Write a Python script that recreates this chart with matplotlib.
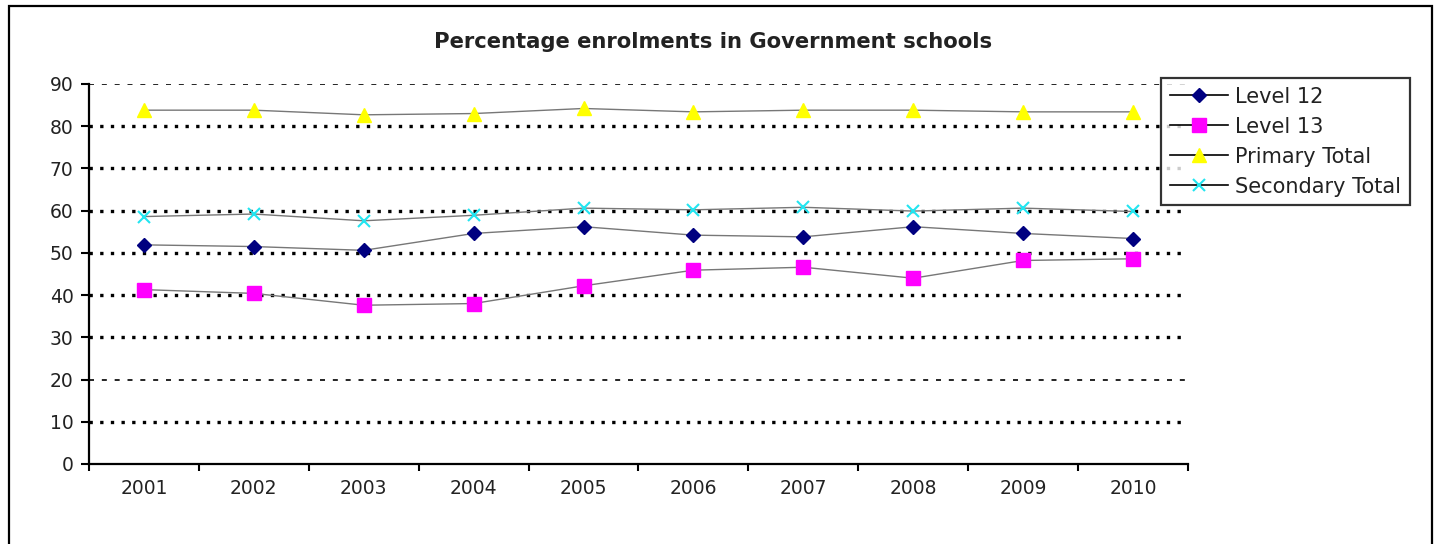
import matplotlib
matplotlib.use("Agg")
import matplotlib.pyplot as plt
from matplotlib.patches import Rectangle
from matplotlib.lines import Line2D

# values
years = ["2001", "2002", "2003", "2004", "2005", "2006", "2007", "2008", "2009", "2010"]
level12 = [51.9, 51.5, 50.6, 54.6, 56.2, 54.2, 53.8, 56.2, 54.6, 53.4]
level13 = [41.3, 40.4, 37.6, 38.0, 42.2, 45.9, 46.6, 44.0, 48.2, 48.6]
primary_total = [83.8, 83.8, 82.7, 83.0, 84.2, 83.4, 83.8, 83.8, 83.4, 83.4]
secondary_total = [58.6, 59.2, 57.6, 58.9, 60.6, 60.2, 60.8, 59.9, 60.6, 59.8]
yticks = [0, 10, 20, 30, 40, 50, 60, 70, 80, 90]

plt.rcParams["font.family"] = "DejaVu Sans"
txt = "#222222"

fig = plt.figure(figsize=(14.39, 5.44), dpi=100)
ax = fig.add_axes([0.0618, 0.1471, 0.7638, 0.6985])

x = range(len(years))
# gridlines: mostly heavy square dots, 20 and 90 thinner dashes
for v in yticks[1:]:
    if v in (20, 90):
        ax.axhline(v, color="black", lw=1.2, ls=(0, (3, 4.7)), zorder=1)
    else:
        ax.axhline(v, color="black", lw=2.4, ls=(0, (1, 2.2)), dash_capstyle="butt", zorder=1)

line_c = "#777777"
ax.plot(x, level12, color=line_c, lw=1.0, marker="D", ms=7, mfc="#000080", mec="#000080", zorder=3)
ax.plot(x, level13, color=line_c, lw=1.0, marker="s", ms=10, mfc="#ff00ff", mec="#ff00ff", zorder=3)
ax.plot(x, primary_total, color=line_c, lw=1.0, marker="^", ms=10, mfc="#ffff00", mec="#ffff00", zorder=3)
ax.plot(x, secondary_total, color=line_c, lw=1.0, marker="x", ms=8.5, mew=1.5, mec="#22e5f0", zorder=3)

ax.set_xlim(-0.5, len(years) - 0.5)
ax.set_ylim(0, 90)
ax.set_yticks(yticks)
ax.set_yticklabels([str(v) for v in yticks], color=txt, fontsize=13.5)
ax.set_xticks([i - 0.5 for i in range(len(years) + 1)])
ax.set_xticklabels([])
ax.set_xticks(list(x), minor=True)
ax.set_xticklabels(years, minor=True, color=txt, fontsize=13.5)
ax.tick_params(axis="x", which="major", direction="out", length=5, width=1.5)
ax.tick_params(axis="x", which="minor", length=0, pad=11)
ax.tick_params(axis="y", direction="out", length=6, width=1.5, pad=5)

for s in ["top", "right"]:
    ax.spines[s].set_visible(False)
for s in ["left", "bottom"]:
    ax.spines[s].set_linewidth(1.6)

fig.text(0.4955, 1 - 42 / 544, "Percentage enrolments in Government schools",
         ha="center", va="center", fontsize=15.2, fontweight="bold", color=txt)

handles = [
    Line2D([], [], color="black", lw=1.2, marker="D", ms=7, mfc="#000080", mec="#000080"),
    Line2D([], [], color="black", lw=1.2, marker="s", ms=10, mfc="#ff00ff", mec="#ff00ff"),
    Line2D([], [], color="black", lw=1.2, marker="^", ms=10, mfc="#ffff00", mec="#ffff00"),
    Line2D([], [], color="black", lw=1.2, marker="x", ms=8.5, mew=1.5, mec="#22e5f0"),
]
labels = ["Level 12", "Level 13", "Primary Total", "Secondary Total"]
leg = fig.legend(handles, labels, loc="upper left", bbox_to_anchor=(1161 / 1439, 1 - 78 / 544),
                 fontsize=15, frameon=True, fancybox=False, numpoints=1, handlelength=2.8,
                 handletextpad=0.35, labelspacing=0.48, borderpad=0.42, borderaxespad=0)
leg.get_frame().set_edgecolor("black")
leg.get_frame().set_linewidth(1.6)
for t in leg.get_texts():
    t.set_color(txt)

# outer chart border (bottom edge is cut off in the reference)
fig.patches.append(Rectangle((9 / 1439, -0.05), 1423 / 1439, 1.05 - 6 / 544,
                             transform=fig.transFigure, fill=False, lw=1.6, ec="black"))

fig.savefig("out.png", dpi=100)
